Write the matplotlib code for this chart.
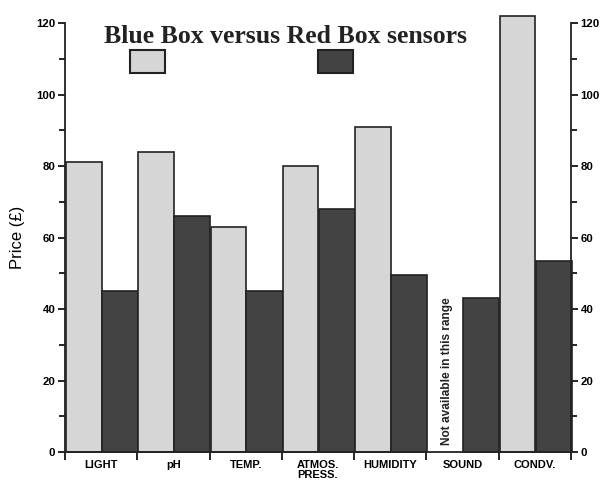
import matplotlib
matplotlib.use("Agg")
import matplotlib.pyplot as plt
from matplotlib.patches import Rectangle
from matplotlib.ticker import MultipleLocator
import numpy as np

# Sensor prices (GBP) for the two suppliers
categories = ["LIGHT", "pH", "TEMP.", "ATMOS.\nPRESS.", "HUMIDITY", "SOUND", "CONDV."]
blue_box = [81, 84, 63, 80, 91, None, 122]
red_box = [45, 66, 45, 68, 49.5, 43, 53.5]
y_ticks = [0, 20, 40, 60, 80, 100, 120]

light_col = "#d6d6d6"
dark_col = "#434343"
sans = "Liberation Sans"

fig = plt.figure(figsize=(6.02, 4.84), dpi=100)
ax = fig.add_axes([0.108, 0.066, 0.8405, 0.8864])

x = np.arange(len(categories))
bw = 0.49
for i, (b, r) in enumerate(zip(blue_box, red_box)):
    if b is not None:
        ax.bar(i + 0.26, b, width=bw, color=light_col, edgecolor="#222222",
               linewidth=1.2, clip_on=False, zorder=2)
    else:
        ax.text(i + 0.28, 2, "Not available in this range", rotation=90,
                ha="center", va="bottom", fontsize=8.6, fontweight="bold",
                family=sans, color="#222222")
    ax.bar(i + 0.76, r, width=0.5, color=dark_col, edgecolor="#222222",
           linewidth=1.2, clip_on=False, zorder=2)

ax.set_xlim(0, 7)
ax.set_ylim(0, 120)

# Category ticks at group boundaries, labels centred under each group
ax.set_xticks(np.arange(8))
ax.set_xticklabels([])
ax.set_xticks(x + 0.5, minor=True)
ax.set_xticklabels(categories, minor=True, fontsize=8, fontweight="bold",
                   family=sans, linespacing=1.0)
ax.tick_params(axis="x", which="major", direction="out", length=6, width=1.2)
ax.tick_params(axis="x", which="minor", length=0, pad=6)

ax.set_yticks(y_ticks)
ax.yaxis.set_minor_locator(MultipleLocator(10))
ax.tick_params(axis="y", which="both", left=True, right=True,
               labelleft=True, labelright=True, direction="out", width=1.2)
ax.tick_params(axis="y", which="major", length=5, labelsize=8.2, pad=2)
ax.tick_params(axis="y", which="minor", length=4)
for lab in ax.get_yticklabels():
    lab.set_family(sans)
    lab.set_fontweight("bold")

ax.spines["top"].set_visible(False)
for s in ("left", "right", "bottom"):
    ax.spines[s].set_linewidth(1.3)
    ax.spines[s].set_color("#222222")

ax.set_ylabel("Price (£)", fontsize=12, family=sans, labelpad=8)

fig.text(0.475, 0.925, "Blue Box versus Red Box sensors", ha="center",
         va="center", fontsize=18.5, fontweight="bold",
         family="Liberation Serif", color="#222222")

# Key swatches below the title
for x0, col in ((130, light_col), (318, dark_col)):
    fig.patches.append(Rectangle((x0 / 602, 1 - 73 / 484), 35 / 602, 23 / 484,
                                 transform=fig.transFigure, facecolor=col,
                                 edgecolor="#222222", linewidth=1.5))

fig.savefig("out.png", dpi=100)
